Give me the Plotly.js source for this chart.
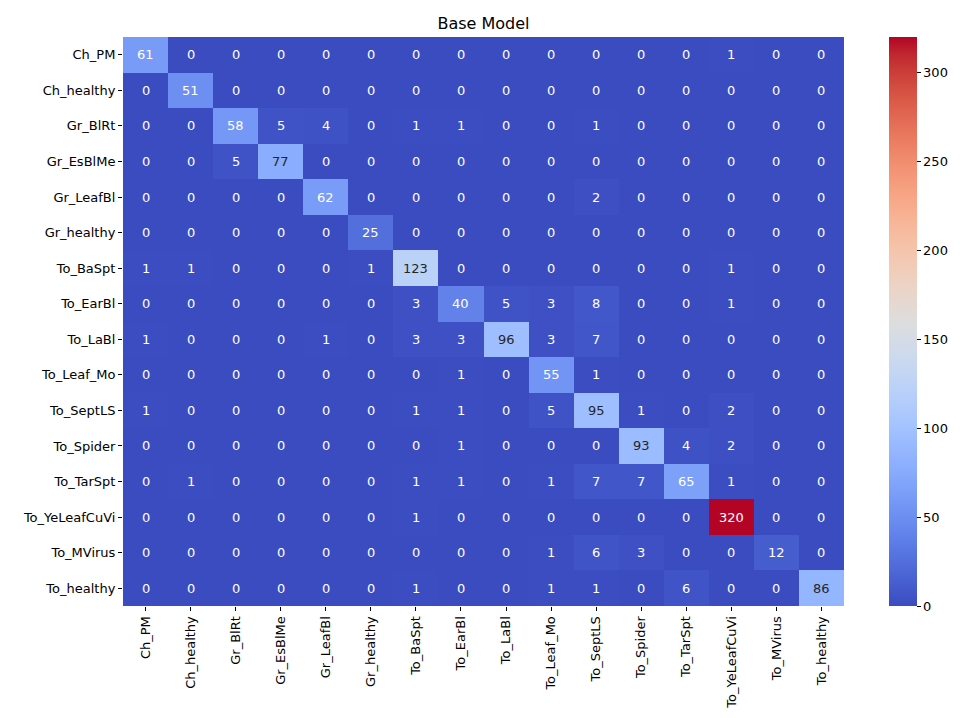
<!DOCTYPE html>
<html>
<head>
<meta charset="utf-8">
<script src="https://cdn.plot.ly/plotly-3.0.1.min.js"></script>
<style>html,body{margin:0;padding:0;background:#fff;}#chart{width:960px;height:718px;}</style>
</head>
<body>
<div id="chart"></div>
<script>
const labels = ["Ch_PM","Ch_healthy","Gr_BlRt","Gr_EsBlMe","Gr_LeafBl","Gr_healthy","To_BaSpt","To_EarBl","To_LaBl","To_Leaf_Mo","To_SeptLS","To_Spider","To_TarSpt","To_YeLeafCuVi","To_MVirus","To_healthy"];
const matrix = [
  [61,0,0,0,0,0,0,0,0,0,0,0,0,1,0,0],
  [0,51,0,0,0,0,0,0,0,0,0,0,0,0,0,0],
  [0,0,58,5,4,0,1,1,0,0,1,0,0,0,0,0],
  [0,0,5,77,0,0,0,0,0,0,0,0,0,0,0,0],
  [0,0,0,0,62,0,0,0,0,0,2,0,0,0,0,0],
  [0,0,0,0,0,25,0,0,0,0,0,0,0,0,0,0],
  [1,1,0,0,0,1,123,0,0,0,0,0,0,1,0,0],
  [0,0,0,0,0,0,3,40,5,3,8,0,0,1,0,0],
  [1,0,0,0,1,0,3,3,96,3,7,0,0,0,0,0],
  [0,0,0,0,0,0,0,1,0,55,1,0,0,0,0,0],
  [1,0,0,0,0,0,1,1,0,5,95,1,0,2,0,0],
  [0,0,0,0,0,0,0,1,0,0,0,93,4,2,0,0],
  [0,1,0,0,0,0,1,1,0,1,7,7,65,1,0,0],
  [0,0,0,0,0,0,1,0,0,0,0,0,0,320,0,0],
  [0,0,0,0,0,0,0,0,0,1,6,3,0,0,12,0],
  [0,0,0,0,0,0,1,0,0,1,1,0,6,0,0,86]
];
const cbTicks = [0,50,100,150,200,250,300];
const title = "Base Model";

const cw = [[59,76,192],[68,90,204],[77,104,215],[87,117,225],[98,130,234],[108,142,241],[119,154,247],[130,165,251],[141,176,254],[152,185,255],[163,194,255],[174,201,253],[184,208,249],[194,213,244],[204,217,238],[213,219,230],[221,221,221],[229,216,209],[236,211,197],[241,204,184],[245,196,172],[247,187,159],[247,177,147],[247,166,134],[244,154,123],[241,141,111],[236,127,99],[229,112,88],[222,96,77],[213,80,66],[203,62,56],[192,40,47],[180,4,38]];
const colorscale = cw.map((c,i)=>[i/(cw.length-1), `rgb(${c[0]},${c[1]},${c[2]})`]);
const zmax = Math.max(...matrix.flat());

function colorAt(v){
  const t = v/zmax*(cw.length-1);
  const i = Math.min(Math.floor(t), cw.length-2), f = t-i;
  return cw[i].map((a,k)=>a+(cw[i+1][k]-a)*f);
}
function lum(c){
  const l = c.map(x=>{x/=255;return x<=0.03928? x/12.92 : Math.pow((x+0.055)/1.055,2.4);});
  return 0.2126*l[0]+0.7152*l[1]+0.0722*l[2];
}

const annotations = [];
matrix.forEach((row,r)=>row.forEach((v,c)=>{
  annotations.push({x:labels[c], y:labels[r], text:String(v), showarrow:false,
    font:{family:"DejaVu Sans", size:13, color: lum(colorAt(v))>0.408 ? "#262626" : "#ffffff"}});
}));

const trace = {
  type:"heatmap", z:matrix, x:labels, y:labels, colorscale:colorscale, zmin:0, zmax:zmax,
  xgap:0, ygap:0, hoverongaps:false,
  colorbar:{x:1.062, xanchor:"left", y:0.5, yanchor:"middle", len:1, lenmode:"fraction", thickness:28,
    outlinewidth:0, tickvals:cbTicks, ticks:"outside", ticklen:4, tickcolor:"#000",
    tickfont:{family:"DejaVu Sans", size:13, color:"#000"}, xpad:0, ypad:0}
};

const layout = {
  width:960, height:718,
  margin:{l:123, r:112, t:37, b:112},
  paper_bgcolor:"#fff", plot_bgcolor:"#fff",
  title:{text:title, x:0.5, xref:"paper", y:1, yref:"paper", yanchor:"bottom", pad:{b:8}, font:{family:"DejaVu Sans", size:16, color:"#000"}},
  xaxis:{type:"category", tickangle:-90, ticks:"outside", ticklen:4, tickcolor:"#000", showgrid:false, zeroline:false, showline:false,
    tickfont:{family:"DejaVu Sans", size:13, color:"#000"}},
  yaxis:{type:"category", autorange:"reversed", ticks:"outside", ticklen:4, tickcolor:"#000", showgrid:false, zeroline:false, showline:false,
    tickfont:{family:"DejaVu Sans", size:13, color:"#000"}},
  annotations:annotations
};

Plotly.newPlot("chart",[trace],layout,{displayModeBar:false, staticPlot:true});
</script>
</body>
</html>
